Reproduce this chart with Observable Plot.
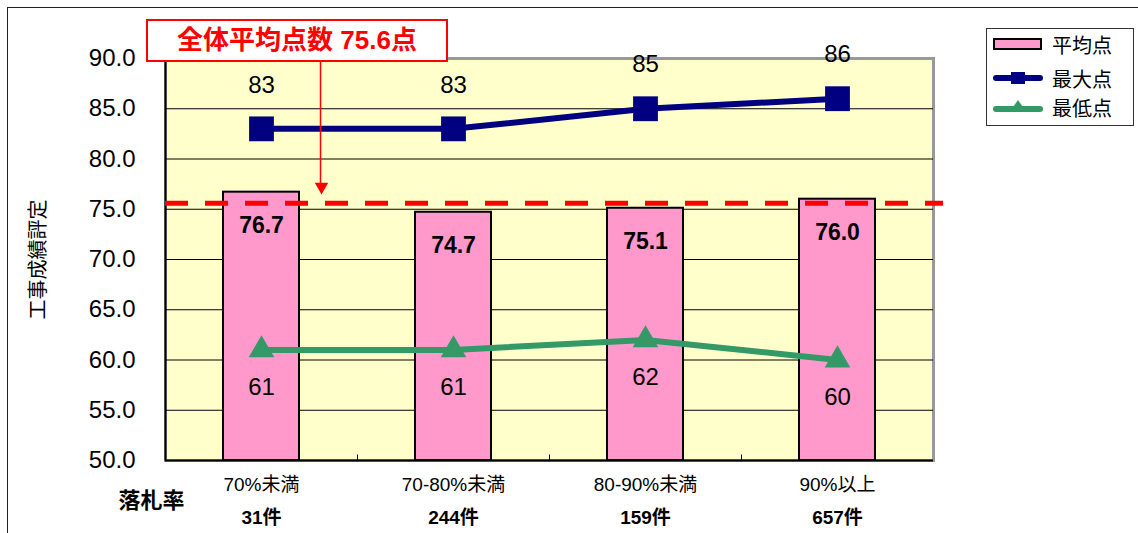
<!DOCTYPE html>
<html><head><meta charset="utf-8">
<script src="https://cdn.jsdelivr.net/npm/d3@7"></script>
<script src="https://cdn.jsdelivr.net/npm/@observablehq/plot@0.6"></script>
<style>
body{margin:0;background:#fff;font-family:"Liberation Sans","Noto Sans CJK JP",sans-serif;}
#wrap{position:relative;width:1138px;height:533px;overflow:hidden;background:#fff;}
#wrap svg{position:absolute;left:0;top:0;}
#border{position:absolute;left:7px;top:7px;width:1140px;height:540px;border-left:1.5px solid #222;border-top:1.5px solid #222;}
#note{position:absolute;left:146px;top:19px;width:298px;height:39px;border:2px solid #f00;background:#fff;color:#f00;font-weight:bold;font-size:26px;line-height:39px;text-align:center;white-space:nowrap;}
#legend{position:absolute;left:986px;top:28px;width:146px;height:96px;border:1px solid #333;background:#fff;}
.row{position:absolute;left:5px;height:30px;display:flex;align-items:center;font-size:20px;color:#000;font-family:"Noto Sans CJK JP",sans-serif;}
.row svg{position:static !important;margin-right:8px;}
</style></head>
<body>
<div id="wrap">
  <div id="border"></div>
</div>
<script>
const categories = ["70%未満", "70-80%未満", "80-90%未満", "90%以上"];
const counts = ["31件", "244件", "159件", "657件"];
const avgScores = [76.7, 74.7, 75.1, 76.0];
const maxScores = [83, 83, 85, 86];
const minScores = [61, 61, 62, 60];
const overallAvg = 75.6;
const yTicks = [50, 55, 60, 65, 70, 75, 80, 85, 90];
const gridTicks = [55, 60, 65, 70, 75, 80, 85];
const seriesNames = ["平均点", "最大点", "最低点"];
const noteText = "全体平均点数 75.6点";
const xTitle = "落札率";
const yTitle = "工事成績評定";
// annotation arrow (data coordinates): from box bottom to just above the average line
const arrowFrom = 89.7, arrowTo = 77.6, arrowTip = 77.25;

const data = categories.map((c, i) => ({cat: c, count: counts[i], avg: avgScores[i], max: maxScores[i], min: minScores[i]}));
const font = "'Liberation Sans','Noto Sans CJK JP',sans-serif";

const chart = Plot.plot({
  width: 1138, height: 533,
  marginLeft: 165, marginRight: 205, marginTop: 58, marginBottom: 73,
  style: {background: "transparent", fontFamily: font, overflow: "visible", color: "#000"},
  x: {domain: categories, padding: 0, axis: null},
  y: {domain: [50, 90], axis: null},
  marks: [
    Plot.frame({fill: "#FFFFCC", stroke: "#999", strokeWidth: 3}),
    Plot.ruleY(gridTicks, {stroke: "#000", strokeWidth: 1}),
    Plot.barY(data, {x: "cat", y1: 50, y2: "avg", fill: "#FF99CC", stroke: "#000", strokeWidth: 2, insetLeft: 58, insetRight: 58}),
    Plot.ruleY([50], {stroke: "#000", strokeWidth: 2}),
    Plot.link([categories[0]], {x1: d => d, x2: d => d, y1: 50, y2: 90, dx: -96, stroke: "#000", strokeWidth: 2}),
    Plot.link(categories.slice(1), {x1: d => d, x2: d => d, y1: 50, y2: 50.6, dx: -96, stroke: "#000", strokeWidth: 1}),
    Plot.ruleY([overallAvg], {stroke: "#f00", strokeWidth: 5, strokeDasharray: "23,17", insetRight: -10}),
    Plot.axisY({ticks: yTicks, tickFormat: d3.format(".1f"), tickSize: 0, tickPadding: 30, fontSize: 24, label: null}),
    Plot.line(data, {x: "cat", y: "max", stroke: "#000080", strokeWidth: 6}),
    Plot.dot(data, {x: "cat", y: "max", symbol: "square", r: 14, fill: "#000080"}),
    Plot.line(data, {x: "cat", y: "min", stroke: "#339966", strokeWidth: 6}),
    Plot.dot(data, {x: "cat", y: "min", symbol: "triangle", r: 9.5, fill: "#339966"}),
    Plot.text(data, {x: "cat", y: "max", text: d => String(d.max), dy: -44, fontSize: 24}),
    Plot.text(data, {x: "cat", y: "min", text: d => String(d.min), dy: 37, fontSize: 24}),
    Plot.text(data, {x: "cat", y: "avg", text: d => d.avg.toFixed(1), dy: 33, fontSize: 23, fontWeight: "bold"}),
    Plot.text(data, {x: "cat", text: "cat", frameAnchor: "bottom", dy: 30, fontSize: 19}),
    Plot.text(data, {x: "cat", text: "count", frameAnchor: "bottom", dy: 63, fontSize: 19, fontWeight: "bold"}),
    Plot.text([xTitle], {frameAnchor: "bottom-left", textAnchor: "middle", dx: -14, dy: 47, fontSize: 22, fontWeight: "bold"}),
    Plot.text([yTitle], {frameAnchor: "left", textAnchor: "middle", rotate: -90, dx: -127, fontSize: 20}),
    Plot.link([categories[0]], {x1: d => d, x2: d => d, y1: arrowFrom, y2: arrowTo, dx: 59, stroke: "#f00", strokeWidth: 1.5}),
    Plot.dot([categories[0]], {x: d => d, y: arrowTip, dx: 60, symbol: "triangle", r: 5, rotate: 180, fill: "#f00"})
  ]
});
const wrap = document.getElementById("wrap");
wrap.insertBefore(chart, wrap.firstChild);

const note = document.createElement("div");
note.id = "note"; note.textContent = noteText;
wrap.appendChild(note);

const legend = document.createElement("div");
legend.id = "legend";
const swatches = [
  `<svg width="52" height="16"><rect x="2" y="3" width="47" height="10" fill="#FF99CC" stroke="#000" stroke-width="2"/></svg>`,
  `<svg width="52" height="16"><line x1="4" y1="8" x2="48" y2="8" stroke="#000080" stroke-width="6" stroke-linecap="round"/><rect x="19" y="2" width="14" height="12" fill="#000080"/></svg>`,
  `<svg width="52" height="16"><line x1="4" y1="10" x2="48" y2="10" stroke="#339966" stroke-width="6" stroke-linecap="round"/><path d="M26,1 L33,11 L19,11 Z" fill="#339966"/></svg>`
];
const tops = [0, 34, 63];
seriesNames.forEach((n, i) => {
  const r = document.createElement("div");
  r.className = "row"; r.style.top = tops[i] + "px";
  r.innerHTML = swatches[i] + `<span>${n}</span>`;
  legend.appendChild(r);
});
wrap.appendChild(legend);
</script>
</body></html>
